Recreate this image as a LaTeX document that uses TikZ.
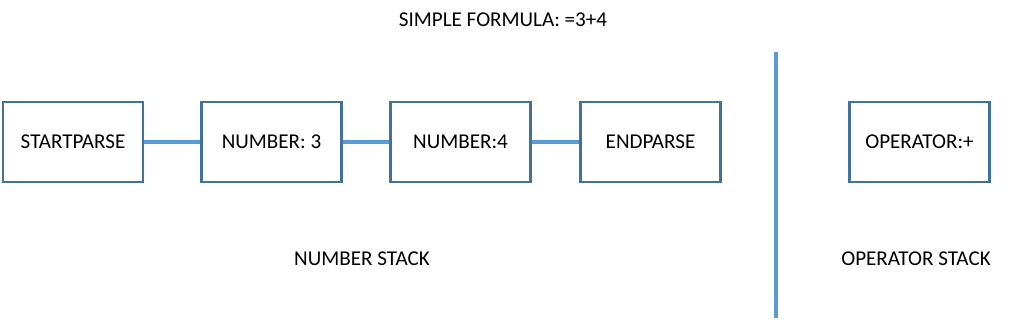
\documentclass[tikz,border=0pt]{standalone}
\usepackage{fontspec}
\setmainfont{Carlito}
\usetikzlibrary{positioning}
\definecolor{BoxBlue}{RGB}{65,113,156}
\definecolor{LineBlue}{RGB}{91,155,213}

\begin{document}
\begin{tikzpicture}[x=0.03cm, y=-0.03cm, font=\fontsize{18pt}{21pt}\selectfont]
            \useasboundingbox (0,0) rectangle (1009,321);
            \tikzset{stackbox/.style={rectangle, draw=BoxBlue, line width=2pt, minimum width=4.2cm, minimum height=2.4cm}}
            % Title
            \node (title) at (503,20) {SIMPLE FORMULA: =3+4};
            % Number stack
            \node[stackbox] (SP) at (73,142) {STARTPARSE};
            \node[stackbox] (N3) at (271.5,142) {NUMBER: 3};
            \node[stackbox] (N4) at (460.5,142) {NUMBER:4};
            \node[stackbox] (EP) at (650.5,142) {ENDPARSE};
            \draw[LineBlue, line width=2.8pt] (SP) -- (N3);
            \draw[LineBlue, line width=2.6pt] (N3) -- (N4);
            \draw[LineBlue, line width=2.6pt] (N4) -- (EP);
            \node (numstack) at (362,259) {NUMBER STACK};
            % Separator
            \coordinate (sepTop) at (776,52);
            \coordinate (sepBot) at (776,318);
            \draw[LineBlue, line width=2.8pt] (sepTop) -- (sepBot);
            % Operator stack
            \node[stackbox] (OP) at (919.5,142) {OPERATOR:+};
            \node (opstack) at (916,259) {OPERATOR STACK};
        \end{tikzpicture}
\end{document}
